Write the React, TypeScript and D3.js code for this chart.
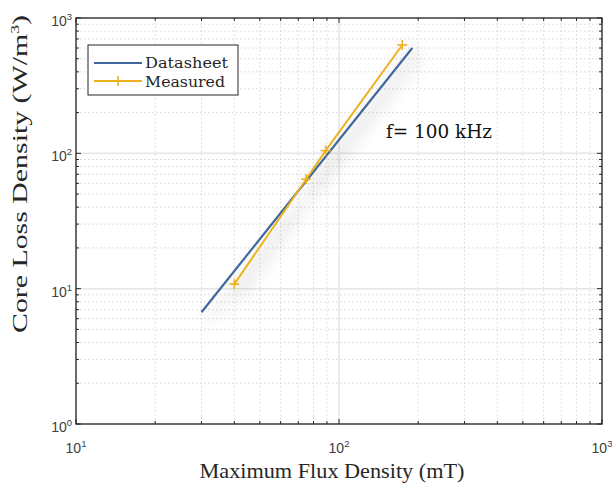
import React from "react";
import * as d3 from "d3";

const datasheetX = [30, 190];
const datasheetY = [6.7, 600];
const measuredX = [40, 75, 89, 174];
const measuredY = [10.8, 64.4, 104.7, 632];
const xDecades = [10, 100, 1000];
const yDecades = [1, 10, 100, 1000];
const xDecadeExp = ["1", "2", "3"];
const yDecadeExp = ["0", "1", "2", "3"];

const W = 612;
const H = 485;
const L = 76, R = 602, T = 18, B = 424;

export default function App() {
  const x = d3.scaleLog().domain([10, 1000]).range([L, R]);
  const y = d3.scaleLog().domain([1, 1000]).range([B, T]);
  const minorX: number[] = [];
  for (const d of [10, 100]) for (let k = 2; k <= 9; k++) minorX.push(d * k);
  const minorY: number[] = [];
  for (const d of [1, 10, 100]) for (let k = 2; k <= 9; k++) minorY.push(d * k);

  const line = d3.line<[number, number]>().x((d) => x(d[0])).y((d) => y(d[1]));
  const ds = line(datasheetX.map((v, i) => [v, datasheetY[i]]) as [number, number][]);
  const ms = line(measuredX.map((v, i) => [v, measuredY[i]]) as [number, number][]);
  const blue = "#3f679a";
  const orange = "#edb120";
  const tickFont = "'Liberation Sans', Arial, sans-serif";
  const serif = "'Liberation Serif', 'Times New Roman', serif";
  const slab = "'DejaVu Serif', serif";

  return (
    <svg width={W} height={H} style={{ position: "absolute", left: 0, top: 0, background: "#fff" }}>
      <defs>
        <filter id="shadow" x="-50%" y="-50%" width="200%" height="200%">
          <feDropShadow dx="8" dy="8" stdDeviation="8" floodColor="#000" floodOpacity="0.25" />
        </filter>
      </defs>
      <rect x={0} y={0} width={W} height={H} fill="#fff" />
      {/* minor grid */}
      {minorX.map((v) => (
        <line key={"mx" + v} x1={x(v)} x2={x(v)} y1={T} y2={B} stroke="#d6d6d6" strokeWidth={1} strokeDasharray="1.5,2.5" />
      ))}
      {minorY.map((v) => (
        <line key={"my" + v} x1={L} x2={R} y1={y(v)} y2={y(v)} stroke="#d6d6d6" strokeWidth={1} strokeDasharray="1.5,2.5" />
      ))}
      {/* major grid */}
      {xDecades.map((v) => (
        <line key={"Mx" + v} x1={x(v)} x2={x(v)} y1={T} y2={B} stroke="#e6e6e6" strokeWidth={1.5} />
      ))}
      {yDecades.map((v) => (
        <line key={"My" + v} x1={L} x2={R} y1={y(v)} y2={y(v)} stroke="#e6e6e6" strokeWidth={1.5} />
      ))}
      {/* data */}
      <g filter="url(#shadow)">
        <path d={ds || ""} fill="none" stroke={blue} strokeWidth={2.2} />
        <path d={ms || ""} fill="none" stroke={orange} strokeWidth={2} />
        {measuredX.map((v, i) => (
          <g key={"mk" + i} stroke={orange} strokeWidth={1.6}>
            <line x1={x(v) - 5} x2={x(v) + 5} y1={y(measuredY[i])} y2={y(measuredY[i])} />
            <line x1={x(v)} x2={x(v)} y1={y(measuredY[i]) - 5} y2={y(measuredY[i]) + 5} />
          </g>
        ))}
      </g>
      {/* axes box */}
      <rect x={L} y={T} width={R - L} height={B - T} fill="none" stroke="#262626" strokeWidth={1.3} />
      {/* ticks */}
      {xDecades.map((v) => (
        <g key={"tx" + v} stroke="#262626" strokeWidth={1}>
          <line x1={x(v)} x2={x(v)} y1={B} y2={B - 5} />
          <line x1={x(v)} x2={x(v)} y1={T} y2={T + 5} />
        </g>
      ))}
      {minorX.map((v) => (
        <g key={"tmx" + v} stroke="#262626" strokeWidth={1}>
          <line x1={x(v)} x2={x(v)} y1={B} y2={B - 3} />
          <line x1={x(v)} x2={x(v)} y1={T} y2={T + 3} />
        </g>
      ))}
      {yDecades.map((v) => (
        <g key={"ty" + v} stroke="#262626" strokeWidth={1}>
          <line x1={L} x2={L + 5} y1={y(v)} y2={y(v)} />
          <line x1={R} x2={R - 5} y1={y(v)} y2={y(v)} />
        </g>
      ))}
      {minorY.map((v) => (
        <g key={"tmy" + v} stroke="#262626" strokeWidth={1}>
          <line x1={L} x2={L + 3} y1={y(v)} y2={y(v)} />
          <line x1={R} x2={R - 3} y1={y(v)} y2={y(v)} />
        </g>
      ))}
      {/* tick labels */}
      {xDecades.map((v, i) => (
        <text key={"lx" + v} x={x(v)} y={453} textAnchor="middle" fontFamily={tickFont} fontSize={14} fill="#404040">
          10<tspan fontSize={9.5} dy={-6}>{xDecadeExp[i]}</tspan>
        </text>
      ))}
      {yDecades.map((v, i) => (
        <text key={"ly" + v} x={72} y={y(v) + 8} textAnchor="end" fontFamily={tickFont} fontSize={14} fill="#404040">
          10<tspan fontSize={9.5} dy={-6}>{yDecadeExp[i]}</tspan>
        </text>
      ))}
      {/* axis labels */}
      <text x={332} y={478} textAnchor="middle" fontFamily={serif} fontSize={21} fill="#262626" textLength={265} lengthAdjust="spacingAndGlyphs">
        Maximum Flux Density (mT)
      </text>
      <text transform={`translate(27, 174) rotate(-90)`} textAnchor="middle" fontFamily={serif} fontSize={22} fill="#262626" textLength={318} lengthAdjust="spacingAndGlyphs">
        Core Loss Density (W/m<tspan fontSize={13} dy={-8}>3</tspan><tspan dy={8}>)</tspan>
      </text>
      {/* annotation */}
      <text x={386} y={138} fontFamily={slab} fontSize={18} fill="#111" textLength={106} lengthAdjust="spacingAndGlyphs">
        f= 100 kHz
      </text>
      {/* legend */}
      <rect x={88} y={45} width={150} height={50} fill="#fff" stroke="#262626" strokeWidth={1} />
      <line x1={94} x2={142} y1={63} y2={63} stroke={blue} strokeWidth={2} />
      <line x1={94} x2={142} y1={81} y2={81} stroke={orange} strokeWidth={2} />
      <line x1={113} x2={123} y1={81} y2={81} stroke={orange} strokeWidth={1.6} />
      <line x1={118} x2={118} y1={76} y2={86} stroke={orange} strokeWidth={1.6} />
      <text x={145} y={68} fontFamily={slab} fontSize={15} fill="#262626" textLength={83} lengthAdjust="spacingAndGlyphs">Datasheet</text>
      <text x={145} y={87} fontFamily={slab} fontSize={15} fill="#262626" textLength={80} lengthAdjust="spacingAndGlyphs">Measured</text>
    </svg>
  );
}
